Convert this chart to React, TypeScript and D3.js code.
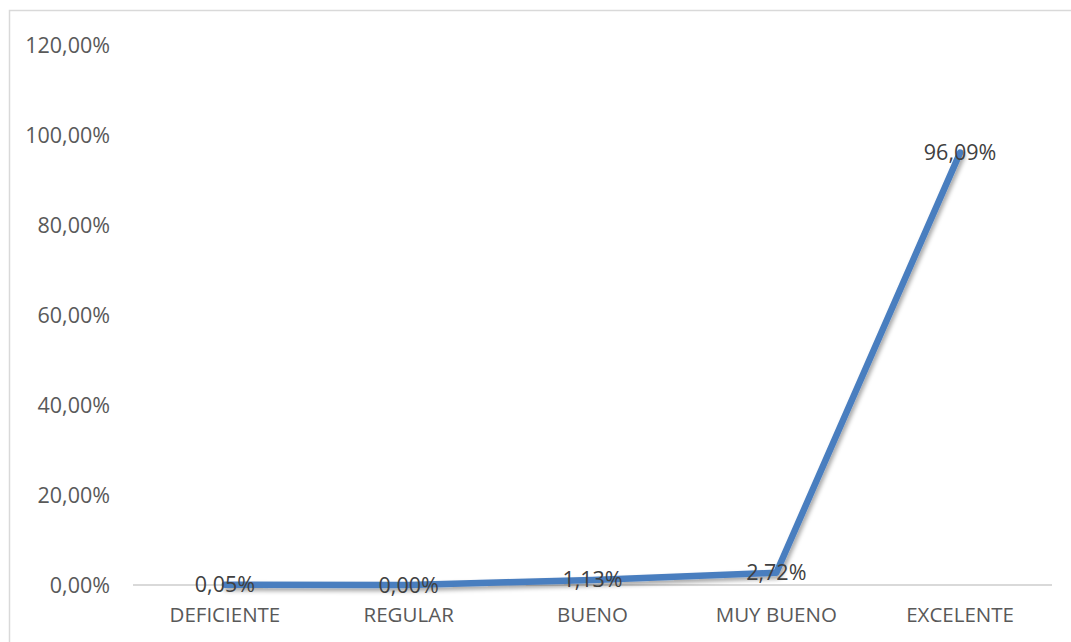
import React, { useEffect, useRef } from 'react'
import * as d3 from 'd3'

const categories = ['DEFICIENTE', 'REGULAR', 'BUENO', 'MUY BUENO', 'EXCELENTE']
const values = [0.05, 0.0, 1.13, 2.72, 96.09]
const yTicks = [0, 20, 40, 60, 80, 100, 120]

const fmt = (v: number) => v.toFixed(2).replace('.', ',') + '%'

export default function App() {
  const svgRef = useRef<SVGSVGElement>(null)

  useEffect(() => {
    if (!svgRef.current) return
    const svg = d3.select(svgRef.current)
    svg.selectAll('*').remove()

    const width = 1071
    const height = 642
    const font = '"Open Sans", "Noto Sans", sans-serif'

    svg.attr('width', width).attr('height', height)

    const defs = svg.append('defs')
    const filter = defs.append('filter')
      .attr('id', 'shadow')
      .attr('x', '-20%').attr('y', '-20%')
      .attr('width', '140%').attr('height', '140%')
    filter.append('feDropShadow')
      .attr('dx', 2).attr('dy', 3)
      .attr('stdDeviation', 2)
      .attr('flood-color', '#000')
      .attr('flood-opacity', 0.35)

    svg.append('rect')
      .attr('width', width)
      .attr('height', height)
      .attr('fill', '#fff')

    // chart border (right/bottom edges fall outside the picture)
    svg.append('rect')
      .attr('x', 9.5).attr('y', 10.5)
      .attr('width', width + 20).attr('height', height + 20)
      .attr('fill', 'none')
      .attr('stroke', '#d9d9d9')
      .attr('stroke-width', 1.5)

    const x = d3.scaleBand<string>()
      .domain(categories)
      .range([133, 1052])

    const y = d3.scaleLinear()
      .domain([0, 120])
      .range([585, 45])

    // Y labels
    svg.append('g')
      .selectAll('text')
      .data(yTicks)
      .enter().append('text')
      .attr('x', 110)
      .attr('y', d => y(d))
      .attr('dy', '0.35em')
      .attr('text-anchor', 'end')
      .attr('fill', '#595959')
      .style('font-family', font)
      .style('font-size', '21.5px')
      .text(d => fmt(d))

    // baseline axis
    svg.append('line')
      .attr('x1', 133).attr('x2', 1052)
      .attr('y1', y(0)).attr('y2', y(0))
      .attr('stroke', '#d9d9d9')
      .attr('stroke-width', 2)

    // category labels
    svg.append('g')
      .selectAll('text')
      .data(categories)
      .enter().append('text')
      .attr('x', d => (x(d) || 0) + x.bandwidth() / 2)
      .attr('y', 615)
      .attr('dy', '0.35em')
      .attr('text-anchor', 'middle')
      .attr('fill', '#595959')
      .style('font-family', font)
      .style('font-size', '20.5px')
      .text(d => d)

    const pts = categories.map((c, i) => ({ c, v: values[i] }))

    const line = d3.line<{ c: string; v: number }>()
      .x(d => (x(d.c) || 0) + x.bandwidth() / 2)
      .y(d => y(d.v))

    svg.append('path')
      .datum(pts)
      .attr('fill', 'none')
      .attr('stroke', '#4a7ebf')
      .attr('stroke-width', 6.5)
      .attr('stroke-linejoin', 'round')
      .attr('stroke-linecap', 'round')
      .attr('filter', 'url(#shadow)')
      .attr('d', line)

    // data labels
    svg.append('g')
      .selectAll('text')
      .data(pts)
      .enter().append('text')
      .attr('x', d => (x(d.c) || 0) + x.bandwidth() / 2)
      .attr('y', d => y(d.v))
      .attr('dy', '0.35em')
      .attr('text-anchor', 'middle')
      .attr('fill', '#404040')
      .style('font-family', font)
      .style('font-size', '21.5px')
      .text(d => fmt(d.v))
  }, [])

  return (
    <div style={{ position: 'absolute', left: 0, top: 0 }}>
      <svg ref={svgRef} style={{ display: 'block' }}></svg>
    </div>
  )
}
